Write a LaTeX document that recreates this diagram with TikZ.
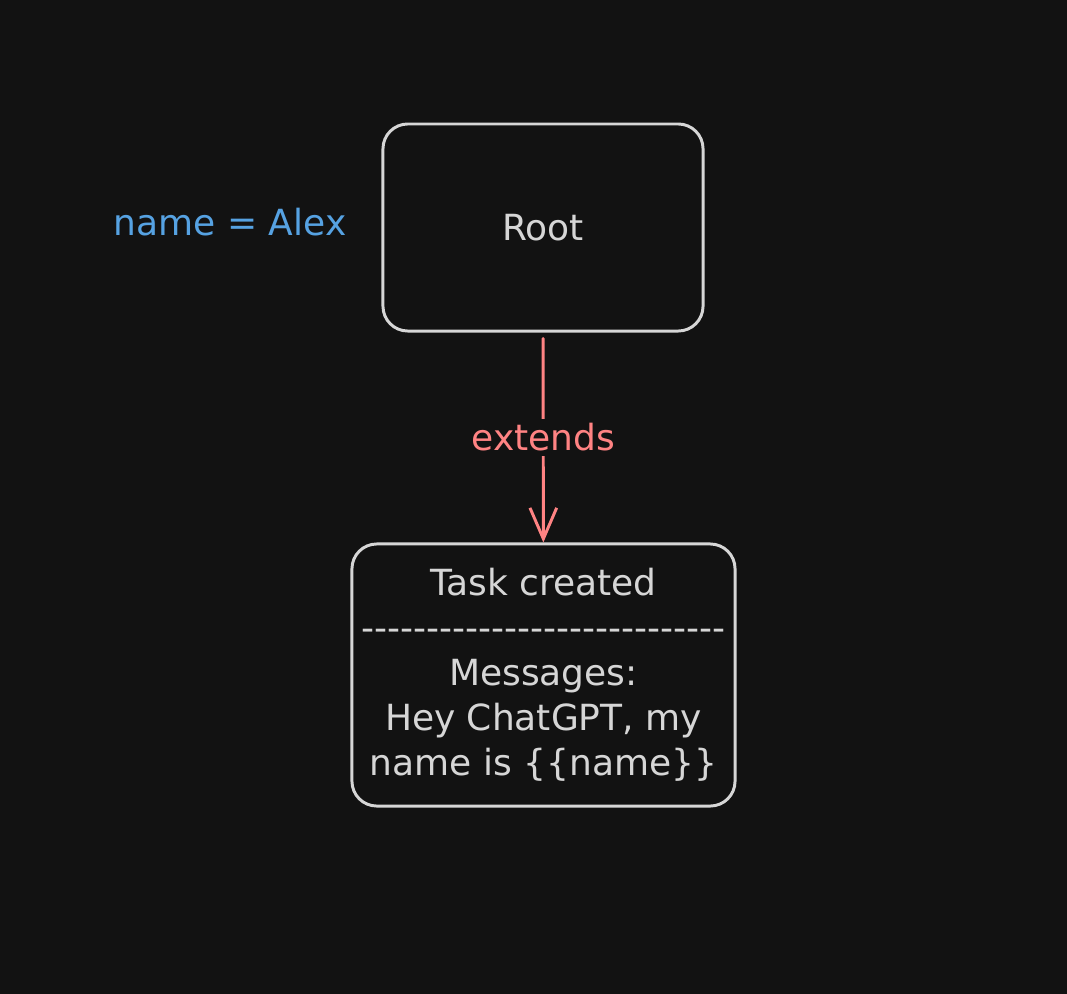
\documentclass[tikz,border=0pt]{standalone}
\usepackage{fontspec}
\setmainfont{DejaVu Sans}
\usetikzlibrary{arrows.meta}

\definecolor{canvas}{HTML}{121212}
\definecolor{chalk}{HTML}{D6D6D6}
\definecolor{redpen}{HTML}{FF8383}
\definecolor{bluepen}{HTML}{56A2E2}

\tikzset{
  card/.style={draw=chalk, line width=2.1pt, rounded corners=0.62cm, text=chalk,
    align=center, font=\fontsize{25.6}{32}\selectfont},
  note/.style={text=bluepen, font=\fontsize{25.6}{32}\selectfont},
  link/.style={draw=redpen, line width=2.1pt, line cap=round,
    -{Straight Barb[length=22pt,width=19pt,line width=2.1pt]}}
}
\newcommand{\dashline}{\foreach \i in {1,...,28}{-{}}}

\begin{document}
\begin{tikzpicture}[x=0.025cm, y=-0.025cm]
\fill[canvas] (0,0) rectangle (1067,994);
\useasboundingbox (0,0) rectangle (1067,994);

\node[card, minimum width=8cm, minimum height=5.175cm] (root) at (543,227.5) {Root};
\node[card, minimum width=9.575cm, minimum height=6.55cm] (task) at (543.5,675)
  {Task created\\ \dashline\\ Messages:\\ Hey ChatGPT, my\\ name is \{\{name\}\}};
\node[note] (name) at (230,222) {name = Alex};

\path[link, shorten <=0.15cm] (root) -- (task)
  node[midway, fill=canvas, text=redpen, font=\fontsize{25.6}{32}\selectfont] (ext) {extends};
\end{tikzpicture}
\end{document}
